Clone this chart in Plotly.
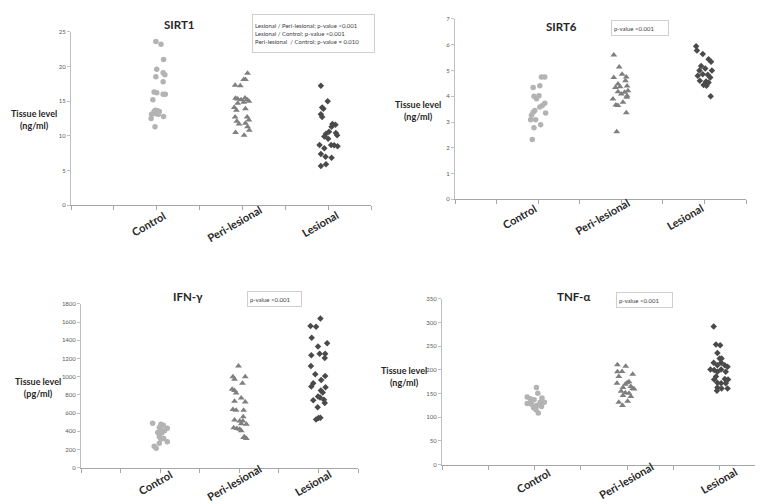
import plotly.graph_objects as go

# ---------------- data ----------------
categories = ["Control", "Peri-lesional", "Lesional"]
category_pos = [2, 4, 6]

# SIRT1 (ng/ml)
sirt1_control = [23.6, 23.2, 21.0, 19.6, 19.1, 18.8, 18.5, 17.8, 16.3, 16.2, 16.0, 16.0, 15.2, 13.7, 13.6, 13.5, 13.5, 13.2, 13.1, 13.1, 12.8, 12.5, 11.3]
sirt1_control_x = [1.98, 2.10, 2.16, 2.0, 2.15, 2.19, 1.98, 2.15, 1.94, 2.0, 2.15, 2.2, 1.91, 1.97, 2.02, 2.06, 1.94, 1.98, 1.88, 2.04, 2.16, 1.87, 1.96]
sirt1_peri = [19.0, 18.1, 18.1, 17.3, 17.2, 15.4, 15.3, 15.2, 15.45, 15.2, 15.0, 14.85, 14.7, 14.1, 13.7, 13.9, 12.7, 12.7, 12.3, 12.1, 11.7, 11.8, 11.3, 10.8, 10.5, 10.1]
sirt1_peri_x = [4.12, 4.03, 4.07, 3.83, 3.95, 3.84, 3.89, 3.97, 4.06, 4.11, 4.15, 4.03, 3.89, 3.81, 3.86, 4.07, 3.83, 4.11, 4.15, 3.87, 3.92, 4.07, 4.12, 4.16, 3.84, 4.04]
sirt1_lesional = [17.2, 15.0, 14.1, 13.9, 13.1, 12.7, 11.7, 11.6, 11.3, 10.6, 10.3, 10.4, 10.1, 9.9, 9.6, 8.7, 8.7, 8.65, 8.5, 8.2, 7.4, 7.0, 6.85, 5.9, 5.65]
sirt1_lesional_x = [5.83, 5.99, 5.86, 5.89, 5.83, 5.86, 6.10, 6.17, 6.08, 6.02, 5.95, 6.18, 6.21, 5.91, 6.0, 5.80, 6.07, 6.14, 6.22, 5.91, 5.83, 5.94, 6.08, 5.95, 5.83]

# SIRT6 (ng/ml)
sirt6_control = [4.75, 4.75, 4.34, 4.41, 4.0, 4.02, 3.9, 3.73, 3.64, 3.58, 3.35, 3.45, 3.38, 3.26, 3.09, 3.09, 2.78, 2.89, 2.32]
sirt6_control_x = [2.16, 2.08, 1.88, 2.04, 1.90, 2.02, 1.96, 2.16, 2.10, 2.04, 2.18, 1.92, 1.88, 1.84, 1.82, 1.94, 1.90, 2.06, 1.86]
sirt6_peri = [5.6, 5.13, 4.73, 4.85, 4.75, 4.6, 4.47, 4.34, 4.37, 4.4, 4.21, 4.15, 4.09, 4.17, 3.89, 3.96, 4.02, 3.77, 3.66, 3.64, 3.36, 2.62]
sirt6_peri_x = [3.82, 3.95, 3.82, 4.02, 4.12, 4.10, 3.92, 3.86, 3.97, 4.14, 4.16, 4.08, 4.0, 3.92, 3.8, 4.13, 4.14, 4.04, 3.87, 3.92, 4.12, 3.89]
sirt6_lesional = [5.94, 5.77, 5.64, 5.43, 5.34, 5.17, 5.08, 5.0, 5.0, 4.85, 4.83, 4.79, 4.73, 4.6, 4.57, 4.44, 4.53, 4.41, 4.0]
sirt6_lesional_x = [5.8, 5.82, 5.96, 6.10, 6.16, 5.92, 6.02, 5.88, 6.18, 5.96, 6.08, 5.84, 6.14, 5.89, 6.04, 5.98, 6.10, 6.05, 6.15]

# IFN-gamma (pg/ml)
ifn_control = [487, 476, 465, 440, 433, 386, 379, 339, 321, 314, 285, 267, 234, 213, 404, 422]
ifn_control_x = [1.81, 2.02, 2.08, 1.98, 2.18, 1.94, 2.04, 1.98, 2.09, 2.02, 2.18, 1.98, 1.85, 1.90, 2.11, 2.01]
ifn_peri = [1118, 999, 970, 999, 927, 862, 848, 819, 729, 765, 722, 639, 631, 631, 523, 559, 512, 512, 483, 476, 437, 429, 422, 404, 339, 321, 332]
ifn_peri_x = [3.98, 3.84, 3.88, 4.15, 4.08, 3.82, 3.88, 3.92, 3.88, 4.05, 4.15, 3.84, 3.92, 4.11, 3.88, 4.10, 4.01, 4.09, 4.05, 4.18, 3.86, 3.94, 4.01, 4.05, 4.13, 4.18, 4.11]
ifn_lesional = [1638, 1558, 1548, 1429, 1367, 1331, 1234, 1252, 1252, 1205, 1118, 1025, 1006, 963, 891, 927, 884, 848, 826, 783, 772, 747, 740, 711, 664, 548, 530, 545]
ifn_lesional_x = [6.05, 5.80, 5.94, 5.83, 6.22, 5.99, 5.82, 6.03, 6.17, 6.16, 5.81, 5.92, 6.17, 6.07, 5.82, 5.87, 6.18, 6.06, 6.11, 5.99, 6.04, 6.14, 5.87, 6.16, 5.98, 6.05, 5.94, 6.0]

# TNF-alpha (ng/ml)
tnf_control = [163, 151, 143, 139, 141, 137, 132, 132, 129, 127, 125, 123, 120, 116, 109, 130]
tnf_control_x = [2.04, 2.07, 1.84, 1.91, 2.16, 1.99, 2.12, 2.21, 1.84, 1.94, 2.05, 2.15, 1.98, 2.03, 2.08, 1.90]
tnf_peri = [211, 208, 197, 196, 191, 186, 173, 172, 175, 170, 165, 163, 160, 155, 152, 151, 144, 146, 132, 134, 125, 161]
tnf_peri_x = [3.79, 3.97, 3.89, 3.79, 4.12, 3.82, 4.0, 3.78, 4.04, 3.96, 4.08, 3.91, 4.15, 3.87, 3.96, 4.04, 4.08, 3.91, 3.82, 4.01, 3.90, 4.12]
tnf_lesional = [292, 254, 252, 236, 224, 224, 215, 215, 210, 210, 207, 201, 196, 196, 200, 201, 186, 180, 181, 180, 173, 172, 163, 161, 161, 172, 156]
tnf_lesional_x = [5.87, 5.92, 6.01, 5.95, 6.0, 6.04, 5.87, 6.03, 5.95, 6.11, 6.17, 5.80, 5.95, 6.13, 5.88, 6.03, 5.92, 5.88, 6.11, 6.18, 5.95, 6.03, 5.95, 6.17, 6.04, 6.13, 5.94]

titles = ["SIRT1", "SIRT6", "IFN-γ", "TNF-α"]
y_labels = ["Tissue level<br>(ng/ml)", "Tissue level<br>(ng/ml)", "Tissue level<br>(pg/ml)", "Tissue level<br>(ng/ml)"]
p_texts = [
    "Lesional / Peri-lesional; p-value <0.001<br>Lesional / Control; p-value <0.001<br>Peri-lesional  / Control; p-value = 0.010",
    "p-value <0.001",
    "p-value <0.001",
    "p-value <0.001",
]
y_ranges = [(0, 25, 5), (0, 7, 1), (0, 1800, 200), (0, 350, 50)]

# ---------------- styling / layout ----------------
W, H = 763, 504
FONT = "Lato"
colors = ["#b3b3b3", "#7f7f7f", "#4a4a4a"]
symbols = ["circle", "triangle-up", "diamond"]
msizes = [5.5, 6, 5]

# plot area boxes in px: (left, right, top, bottom)
boxes = [(63, 363, 20, 196), (447, 738, 7, 190), (73, 350, 296, 462), (434, 758, 291, 459)]
title_pos = [(171, 13), (553, 15), (180, 288), (565, 288)]
ylab_pos = [(26, 109), (410, 100), (30, 381), (396, 370)]
pbox = [(244, 2, 117, 33), (603, 8, 52, 10), (239, 283, 49, 10), (608, 284, 51, 10)]
label_shift = [(-8, -18), (-19, -17), (-5, -15), (-1, -16)]

panels = [
    [(sirt1_control_x, sirt1_control), (sirt1_peri_x, sirt1_peri), (sirt1_lesional_x, sirt1_lesional)],
    [(sirt6_control_x, sirt6_control), (sirt6_peri_x, sirt6_peri), (sirt6_lesional_x, sirt6_lesional)],
    [(ifn_control_x, ifn_control), (ifn_peri_x, ifn_peri), (ifn_lesional_x, ifn_lesional)],
    [(tnf_control_x, tnf_control), (tnf_peri_x, tnf_peri), (tnf_lesional_x, tnf_lesional)],
]

fig = go.Figure()
layout = dict(
    width=W, height=H,
    margin=dict(l=0, r=0, t=0, b=0),
    paper_bgcolor="white", plot_bgcolor="white",
    showlegend=False,
    font=dict(family=FONT, color="#333333"),
)
annotations = []

for i, series in enumerate(panels):
    n = "" if i == 0 else str(i + 1)
    xa, ya = "x" + n, "y" + n
    for j, (xs, ys) in enumerate(series):
        fig.add_trace(go.Scatter(
            x=xs, y=ys, mode="markers", xaxis=xa, yaxis=ya,
            name=categories[j],
            marker=dict(symbol=symbols[j], color=colors[j], size=msizes[j], line=dict(width=0)),
        ))
    l, r, t, b = boxes[i]
    y0, y1, dy = y_ranges[i]
    layout["xaxis" + n] = dict(
        domain=[l / W, r / W], anchor=ya, range=[0, 7],
        showgrid=False, zeroline=False, showline=True, linecolor="#a6a6a6", linewidth=1,
        tickvals=category_pos, ticktext=["", "", ""], ticks="outside", ticklen=4, tickcolor="#a6a6a6",
        minor=dict(ticks="outside", dtick=1, tick0=0, ticklen=4, tickcolor="#a6a6a6"),
        fixedrange=True,
    )
    layout["yaxis" + n] = dict(
        domain=[1 - b / H, 1 - t / H], anchor=xa, range=[y0, y1],
        dtick=dy, tick0=0, showgrid=False, zeroline=False, showline=True,
        linecolor="#bfbfbf", linewidth=1, ticks="outside", ticklen=3, tickcolor="#bfbfbf",
        tickfont=dict(size=6, color="#595959", family=FONT), fixedrange=True,
    )
    # category labels
    for k, cat in enumerate(categories):
        annotations.append(dict(
            x=category_pos[k], xref=xa, y=0, yref=ya + " domain",
            text="<b>" + cat + "</b>", showarrow=False, textangle=-30,
            xanchor="center", yanchor="middle",
            xshift=label_shift[i][0], yshift=label_shift[i][1],
            font=dict(size=11, color="#262626", family=FONT),
        ))
    # title
    tx, ty = title_pos[i]
    annotations.append(dict(
        x=tx / W, y=1 - ty / H, xref="paper", yref="paper", text="<b>" + titles[i] + "</b>",
        showarrow=False, xanchor="center", yanchor="middle",
        font=dict(size=11.5, color="#262626", family=FONT),
    ))
    # y label
    lx, ly = ylab_pos[i]
    annotations.append(dict(
        x=lx / W, y=1 - ly / H, xref="paper", yref="paper", text="<b>" + y_labels[i] + "</b>",
        showarrow=False, xanchor="center", yanchor="middle", align="center",
        font=dict(size=9, color="#262626", family=FONT),
    ))
    # p-value box
    px, py, pw, ph = pbox[i]
    annotations.append(dict(
        x=px / W, y=1 - py / H, xref="paper", yref="paper", text=p_texts[i],
        showarrow=False, xanchor="left", yanchor="top", align="left",
        width=pw, height=ph, valign="middle",
        bordercolor="#cfcfcf", borderwidth=1, borderpad=2, bgcolor="white",
        font=dict(size=6, color="#404040", family=FONT),
    ))

layout["annotations"] = annotations
fig.update_layout(**layout)
fig.write_html("out.html")
